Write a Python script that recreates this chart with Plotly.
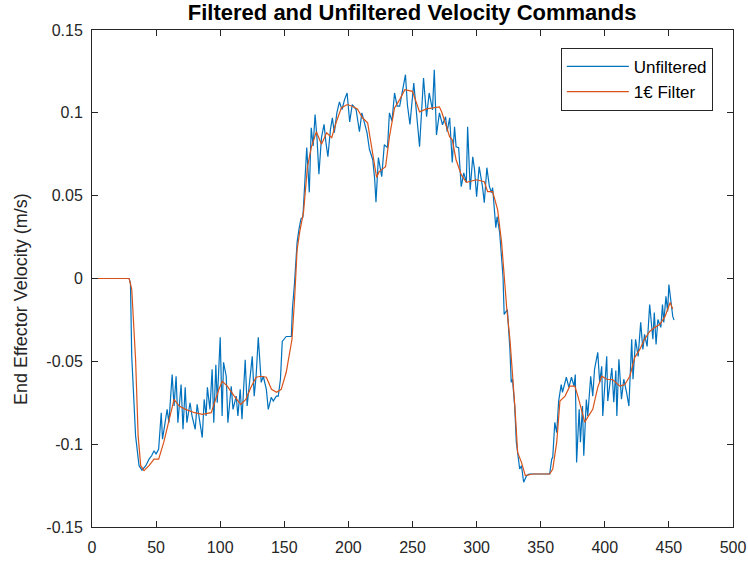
import plotly.graph_objects as go

# Unfiltered velocity command
unf_x = [0, 29, 30, 31, 34, 36.7, 39, 42, 44.5, 46.5, 48.4, 50, 52, 54, 55, 57, 58.6, 60, 62.5, 64,
         65.6, 67, 69.5, 71, 72.7, 74, 76.5, 78, 80.5, 82, 84, 86, 87.5, 89, 90, 92, 93.7, 95, 96.6, 97.7,
         100, 101.5, 102.6, 104.7, 106, 108.6, 110, 112.5, 113.8, 115.6, 117, 119.5, 121, 123.4, 125, 126.5,
         128, 129.7, 132, 133.6, 136, 137.5, 139.8, 141.4, 143.8, 145.3, 147, 148.4, 151.5, 155.5, 156.3,
         158, 160, 161.5, 163, 164.5, 166.5, 167.5, 169.5, 171, 172.5, 174, 175.5, 177, 179, 181, 182.5,
         184, 186, 187.5, 189, 191, 193, 195, 197, 199, 201, 203, 206, 208.6, 210.5, 212.5, 214.5, 216.4,
         219, 220.5, 221.5, 223.4, 226, 228, 230.5, 232, 234, 236, 238, 240, 242, 244.5, 246, 248, 251,
         253, 255.5, 258.6, 261, 263, 265.6, 267, 268.7, 271, 273.4, 275.8, 277, 279, 281, 282.8, 284, 286,
         288, 290, 292, 293, 295, 297, 298.4, 300, 302, 304.6, 306, 308, 310, 311.7, 312.5, 315, 316, 318,
         319.5, 320.6, 321.5, 324, 326, 327, 328, 329.7, 331, 333.6, 335, 336.7, 339, 341, 357, 358.6,
         359.4, 361, 362.5, 364, 366, 367, 370, 372, 374, 376, 377, 378, 380, 381, 382.6, 383.6, 385.6,
         386.7, 389, 390.6, 392, 394.5, 396, 397.6, 398.4, 401.5, 402.3, 405.5, 407, 408.6, 409.4, 411,
         413, 414.8, 417, 418.8, 421, 422, 424, 426, 428, 429.7, 431, 433, 435, 437.5, 438.6, 440, 441.4,
         443.7, 445, 446, 447.7, 449, 450, 451.5, 453, 454]
unf_y = [0, 0, -0.003, -0.047, -0.095, -0.113, -0.1157, -0.113, -0.109, -0.107, -0.104, -0.106, -0.103,
         -0.081, -0.097, -0.087, -0.079, -0.087, -0.058, -0.077, -0.059, -0.087, -0.064, -0.091, -0.0657,
         -0.087, -0.075, -0.083, -0.091, -0.076, -0.085, -0.096, -0.073, -0.083, -0.0657, -0.079, -0.0548,
         -0.087, -0.052, -0.075, -0.0355, -0.083, -0.0506, -0.059, -0.087, -0.065, -0.079, -0.071, -0.083,
         -0.0669, -0.085, -0.049, -0.077, -0.0608, -0.047, -0.071, -0.059, -0.0355, -0.0627, -0.059,
         -0.0669, -0.079, -0.0717, -0.074, -0.071, -0.071, -0.0608, -0.038, -0.035, -0.035, -0.0187,
         -0.0024, 0.022, 0.03, 0.036, 0.037, 0.066, 0.079, 0.052, 0.091, 0.08, 0.099, 0.085, 0.063, 0.085,
         0.093, 0.082, 0.0735, 0.09, 0.097, 0.088, 0.1, 0.1066, 0.102, 0.108, 0.112, 0.0945, 0.105, 0.102,
         0.0886, 0.1, 0.0946, 0.088, 0.078, 0.0717, 0.06, 0.046, 0.073, 0.0615, 0.0807, 0.079, 0.1, 0.095,
         0.112, 0.104, 0.104, 0.113, 0.123, 0.105, 0.093, 0.118, 0.1006, 0.0795, 0.121, 0.0976, 0.112,
         0.1018, 0.126, 0.0867, 0.1, 0.0928, 0.0976, 0.0886, 0.097, 0.07, 0.0916, 0.0795, 0.079, 0.0554,
         0.0638, 0.058, 0.0916, 0.0536, 0.0735, 0.0657, 0.0494, 0.0675, 0.0554, 0.0458, 0.0669, 0.0554,
         0.0518, 0.0548, 0.0307, 0.0373, 0.0277, 0.0114, 0.001, -0.0217, -0.0187, -0.0428, -0.0627,
         -0.0608, -0.077, -0.0988, -0.115, -0.113, -0.123, -0.119, -0.118, -0.118, -0.109, -0.108, -0.0868,
         -0.093, -0.074, -0.064, -0.0687, -0.0596, -0.0657, -0.0596, -0.065, -0.058, -0.111, -0.079,
         -0.0988, -0.077, -0.107, -0.073, -0.083, -0.059, -0.071, -0.0548, -0.0446, -0.0627, -0.053,
         -0.083, -0.047, -0.074, -0.054, -0.0747, -0.0556, -0.083, -0.0488, -0.0729, -0.0608, -0.0687,
         -0.077, -0.0367, -0.0608, -0.0367, -0.047, -0.0265, -0.0428, -0.0337, -0.041, -0.0157, -0.0367,
         -0.0205, -0.0398, -0.0247, -0.0295, -0.0157, -0.0265, -0.0108, -0.0199, -0.0036, -0.0127,
         -0.0229, -0.025]

# 1-Euro filtered velocity command
flt_x = [0, 29, 31, 34, 36, 38, 40.6, 44.5, 48.4, 52, 56, 60, 64, 68, 73, 80, 86, 93, 97, 99, 101.6,
         105.5, 111, 116, 120, 124, 128, 132, 136, 140, 144, 147.6, 151.5, 154, 156, 158, 160, 162, 165,
         168, 171, 175, 179, 183, 187, 190.6, 194.5, 199, 203, 207, 211, 215, 219, 222, 224, 229, 232,
         236, 240, 244, 250, 255.5, 261, 267, 271, 273, 276.5, 279, 281, 284, 288, 292, 300, 306, 308.6,
         312.5, 316.4, 319.5, 323.4, 326, 330, 332, 335, 338, 344, 357, 359.4, 362.5, 365, 369, 372.7,
         376.6, 379, 382, 384.4, 386.7, 390.6, 394.5, 397.6, 401.5, 406, 411.7, 415.6, 419.5, 423.4,
         427.3, 431, 435, 439, 443, 447, 451, 453]
flt_y = [0, 0, -0.0066, -0.049, -0.095, -0.113, -0.116, -0.113, -0.109, -0.109, -0.0988, -0.085, -0.073,
         -0.077, -0.079, -0.081, -0.082, -0.081, -0.071, -0.0669, -0.062, -0.065, -0.071, -0.076, -0.073,
         -0.0657, -0.0596, -0.059, -0.0596, -0.0669, -0.0687, -0.0669, -0.0566, -0.0446, -0.0367, -0.0127,
         0.0175, 0.028, 0.04, 0.067, 0.079, 0.0886, 0.081, 0.088, 0.085, 0.0946, 0.103, 0.105, 0.104,
         0.1024, 0.097, 0.094, 0.0735, 0.061, 0.0645, 0.0675, 0.0855, 0.103, 0.108, 0.114, 0.113, 0.1006,
         0.1024, 0.103, 0.1036, 0.1, 0.0916, 0.0855, 0.0837, 0.0717, 0.0627, 0.058, 0.0596, 0.0584,
         0.0524, 0.0524, 0.0416, 0.0217, -0.017, -0.0367, -0.079, -0.105, -0.111, -0.119, -0.118, -0.118,
         -0.115, -0.0988, -0.074, -0.071, -0.065, -0.065, -0.071, -0.080, -0.0868, -0.0837, -0.079,
         -0.0657, -0.059, -0.0608, -0.061, -0.065, -0.064, -0.059, -0.0476, -0.0428, -0.0367, -0.032,
         -0.0295, -0.0277, -0.0229, -0.0145, -0.0185]

x_ticks = [0, 50, 100, 150, 200, 250, 300, 350, 400, 450, 500]
y_ticks = [-0.15, -0.1, -0.05, 0, 0.05, 0.1, 0.15]
y_tick_text = ["-0.15", "-0.1", "-0.05", "0", "0.05", "0.1", "0.15"]

FONT = "Liberation Sans, Arial, Helvetica, sans-serif"

fig = go.Figure()
fig.add_trace(go.Scatter(x=unf_x, y=unf_y, mode="lines", name="Unfiltered",
                         line=dict(color="#0072BD", width=1.2)))
fig.add_trace(go.Scatter(x=flt_x, y=flt_y, mode="lines", name="1\u20ac Filter",
                         line=dict(color="#D95319", width=1.2)))

axis_common = dict(showgrid=False, zeroline=False, showline=True, linecolor="#262626", linewidth=1,
                   mirror="ticks", ticks="inside", ticklen=6, tickcolor="#262626",
                   tickfont=dict(family=FONT, size=16, color="#262626"))

fig.update_layout(
    width=748, height=561,
    paper_bgcolor="white", plot_bgcolor="white",
    margin=dict(l=92, r=15, t=30, b=34, autoexpand=False),
    title=dict(text="<b>Filtered and Unfiltered Velocity Commands</b>", x=0.551, xanchor="center",
               y=1 - 12.5 / 561, yanchor="middle",
               font=dict(family=FONT, size=22, color="black")),
    xaxis=dict(range=[0, 500], tickvals=x_ticks, ticklabelstandoff=6, **axis_common),
    yaxis=dict(range=[-0.15, 0.15], tickvals=y_ticks, ticktext=y_tick_text, ticklabelstandoff=5,
               **axis_common),
    annotations=[dict(text="End Effector Velocity (m/s)", textangle=-90, xref="paper", yref="paper",
                      x=-(92 - 21) / 641, y=(527 - 299) / 497, xanchor="center", yanchor="middle",
                      showarrow=False, font=dict(family=FONT, size=18, color="#262626"))],
    legend=dict(x=0.9685, y=0.964, xanchor="right", yanchor="top", bgcolor="white",
                bordercolor="#262626", borderwidth=1, itemwidth=62,
                font=dict(family=FONT, size=17, color="black"),
                tracegroupgap=0),
    showlegend=True,
)

fig.write_html("out.html", config={"displayModeBar": False},
               post_script="document.body.style.margin='0';")
